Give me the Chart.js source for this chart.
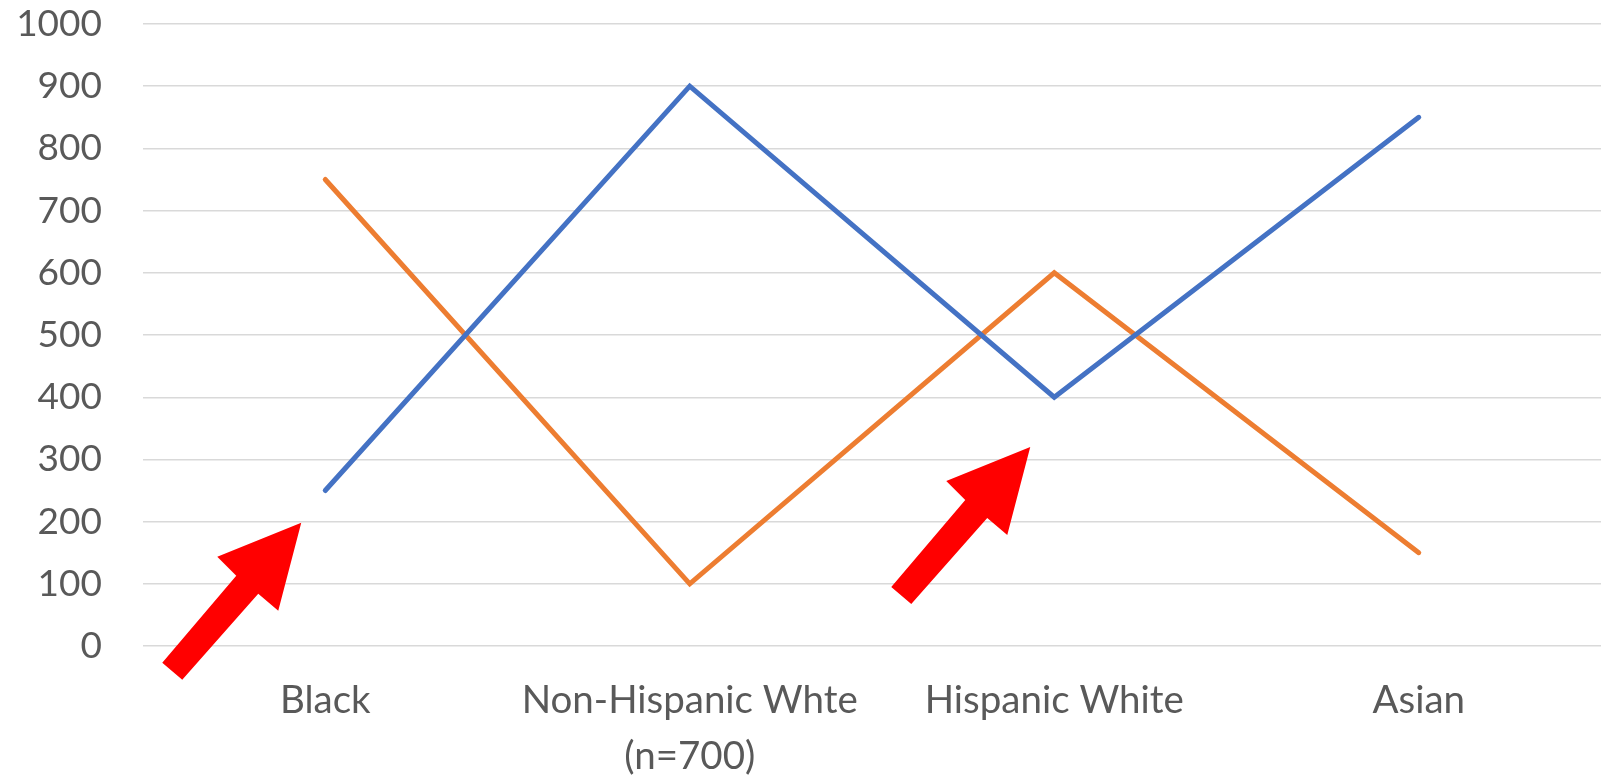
<!DOCTYPE html>
<html>
<head>
<meta charset="utf-8">
<title>Line chart</title>
<script src="https://cdn.jsdelivr.net/npm/chart.js@4.4.1/dist/chart.umd.min.js"></script>
<style>
  html, body { margin: 0; padding: 0; background: #ffffff; }
  #wrap { width: 1601px; height: 775px; position: relative; }
</style>
</head>
<body>
<div id="wrap"><canvas id="chart"></canvas></div>
<script>
// Categories along the x axis
const categories = ['Black', ['Non-Hispanic Whte', '(n=700)'], 'Hispanic White', 'Asian'];

// Series values
const blueSeries = [250, 900, 400, 850];
const orangeSeries = [750, 100, 600, 150];

// Y axis range and tick step
const yMin = 0;
const yMax = 1000;
const yStep = 100;

// Callout arrows: anchored on a category and a value of the y scale
const arrowCategoryIndex = [0, 2];
const arrowTipValue = [198, 320];

// Arrow outline, in pixels relative to its tip
const ARROW_SHAPE = [[0, 0], [-84, 34], [-65, 53], [-139, 140], [-119, 157], [-43, 71], [-23, 88]];
const ARROW_TIP_DX = -24;

const arrowPlugin = {
  id: 'calloutArrows',
  afterDatasetsDraw(chart) {
    const ctx = chart.ctx;
    const xs = chart.scales.x;
    const ys = chart.scales.y;
    ctx.save();
    ctx.fillStyle = '#ff0000';
    arrowCategoryIndex.forEach((ci, i) => {
      const tx = xs.getPixelForValue(ci) + ARROW_TIP_DX;
      const ty = ys.getPixelForValue(arrowTipValue[i]);
      ctx.beginPath();
      ARROW_SHAPE.forEach(([dx, dy], k) => {
        if (k === 0) ctx.moveTo(tx + dx, ty + dy);
        else ctx.lineTo(tx + dx, ty + dy);
      });
      ctx.closePath();
      ctx.fill();
    });
    ctx.restore();
  }
};

const FONT_FAMILY = 'Lato, "Open Sans", sans-serif';
const TEXT_COLOR = '#595959';

new Chart(document.getElementById('chart'), {
  type: 'line',
  data: {
    labels: categories,
    datasets: [
      {
        data: blueSeries,
        borderColor: '#4472C4',
        borderWidth: 5,
        borderCapStyle: 'round',
        borderJoinStyle: 'miter',
        pointRadius: 0,
        pointHoverRadius: 0,
        tension: 0,
        fill: false
      },
      {
        data: orangeSeries,
        borderColor: '#ED7D31',
        borderWidth: 5,
        borderCapStyle: 'round',
        borderJoinStyle: 'miter',
        pointRadius: 0,
        pointHoverRadius: 0,
        tension: 0,
        fill: false
      }
    ]
  },
  options: {
    responsive: true,
    maintainAspectRatio: false,
    animation: false,
    events: [],
    layout: { padding: { top: 24, right: 0, left: 0, bottom: 0 } },
    plugins: {
      legend: { display: false },
      tooltip: { enabled: false },
      title: { display: false }
    },
    scales: {
      x: {
        offset: true,
        grid: { display: false, drawTicks: false },
        border: { display: false },
        ticks: {
          color: TEXT_COLOR,
          font: { family: FONT_FAMILY, size: 38.5, lineHeight: 1.45 },
          padding: 27,
          maxRotation: 0,
          autoSkip: false
        },
        afterFit(scale) { scale.height = 129; }
      },
      y: {
        min: yMin,
        max: yMax,
        grid: { color: '#d9d9d9', lineWidth: 1.4, drawTicks: false },
        border: { display: false },
        ticks: {
          stepSize: yStep,
          color: TEXT_COLOR,
          font: { family: FONT_FAMILY, size: 37 },
          padding: 41,
          callback: (value) => String(value)
        },
        afterFit(scale) {
          scale.width = 143;
          scale.paddingTop = 0;
          scale.paddingBottom = 0;
        }
      }
    }
  },
  plugins: [arrowPlugin]
});
</script>
</body>
</html>
